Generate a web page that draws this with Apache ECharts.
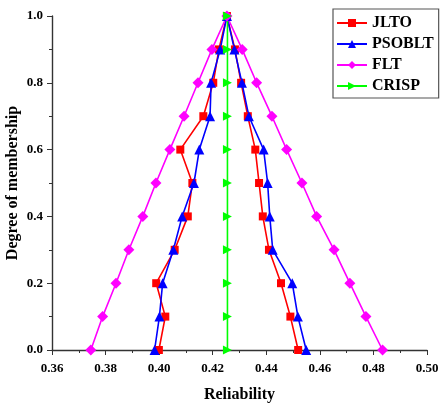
<!DOCTYPE html>
<html>
<head>
<meta charset="utf-8">
<script src="https://cdn.jsdelivr.net/npm/echarts@6/dist/echarts.min.js"></script>
<style>
  html, body { margin: 0; padding: 0; background: #fff; }
  #chart { width: 440px; height: 410px; }
</style>
</head>
<body>
<div id="chart"></div>
<script>
// membership levels (y), and the x values of each branch at those levels
const levels = [0, 0.1, 0.2, 0.3, 0.4, 0.5, 0.6, 0.7, 0.8, 0.9, 1.0];

const jltoLeft = [0.3999, 0.4023, 0.3989, 0.4058, 0.4107, 0.4124, 0.4079, 0.4165, 0.4202, 0.4223, 0.4253];
const jltoRight = [0.4519, 0.4490, 0.4455, 0.4410, 0.4387, 0.4373, 0.4359, 0.4331, 0.4306, 0.4283, 0.4253];

const psobltLeft = [0.3983, 0.4001, 0.4013, 0.4053, 0.4086, 0.4130, 0.4150, 0.4190, 0.4194, 0.4228, 0.4253];
const psobltRight = [0.4549, 0.4518, 0.4497, 0.4424, 0.4413, 0.4405, 0.4390, 0.4335, 0.4309, 0.4281, 0.4253];

const fltLeft = [0.3745, 0.3789, 0.3839, 0.3887, 0.3939, 0.3988, 0.4040, 0.4093, 0.4145, 0.4197, 0.4253];
const fltRight = [0.4834, 0.4772, 0.4712, 0.4653, 0.4588, 0.4533, 0.4476, 0.4421, 0.4364, 0.4310, 0.4253];

const crispValues = [0.4255, 0.4255, 0.4255, 0.4255, 0.4255, 0.4255, 0.4255, 0.4255, 0.4255, 0.4255, 0.4255];

const xTicks = { min: 0.36, max: 0.50, interval: 0.02 };
const yTicks = { min: 0, max: 1, interval: 0.2 };

const font = '"Liberation Serif", "Times New Roman", serif';

// left branch going up, then right branch going back down
const triangle = (left, right) => {
    const up = left.map((x, i) => [x, levels[i]]);
    const down = [];
    for (let i = right.length - 2; i >= 0; i--) {
        down.push([right[i], levels[i]]);
    }
    return up.concat(down);
};

const makeSeries = (name, data, color, symbol, size, rotate) => ({
    name,
    type: 'line',
    data,
    symbol,
    symbolSize: size,
    symbolRotate: rotate || 0,
    lineStyle: { color, width: 1.6 },
    itemStyle: { color },
    emphasis: { disabled: true },
    animation: false
});

const axisLine = { show: true, lineStyle: { color: '#333', width: 1.4 } };

const option = {
    backgroundColor: '#fff',
    grid: { left: 52, right: 13, top: 16, bottom: 60, outerBoundsMode: 'none', containLabel: false },
    legend: {
        orient: 'vertical',
        left: 333,
        top: 9,
        padding: [6, 5, 4, 3],
        itemGap: 5,
        itemWidth: 30,
        itemHeight: 10,
        borderColor: '#555',
        borderWidth: 1.2,
        borderRadius: 0,
        textStyle: { fontFamily: font, fontWeight: 'bold', fontSize: 16, color: '#000', padding: [0, 0, 0, 0] },
        data: ['JLTO', 'PSOBLT', 'FLT', 'CRISP']
    },
    xAxis: {
        type: 'value',
        min: xTicks.min,
        max: xTicks.max,
        interval: xTicks.interval,
        name: 'Reliability',
        nameLocation: 'middle',
        nameGap: 37,
        nameMoveOverlap: false,
        nameTextStyle: { fontFamily: font, fontWeight: 'bold', fontSize: 16, color: '#000' },
        axisLine,
        axisTick: { show: true, inside: false, length: 5, lineStyle: { color: '#333' } },
        minorTick: { show: true, splitNumber: 2, length: 3, lineStyle: { color: '#333' } },
        splitLine: { show: false },
        axisLabel: {
            fontFamily: font, fontWeight: 'bold', fontSize: 13, color: '#000', margin: 12,
            formatter: v => v.toFixed(2)
        }
    },
    yAxis: {
        type: 'value',
        min: yTicks.min,
        max: yTicks.max,
        interval: yTicks.interval,
        name: 'Degree of membership',
        nameLocation: 'middle',
        nameGap: 31,
        nameMoveOverlap: false,
        nameTextStyle: { fontFamily: font, fontWeight: 'bold', fontSize: 16, color: '#000' },
        axisLine,
        axisTick: { show: true, inside: false, length: 5, lineStyle: { color: '#333' } },
        minorTick: { show: true, splitNumber: 2, length: 3, lineStyle: { color: '#333' } },
        splitLine: { show: false },
        axisLabel: {
            fontFamily: font, fontWeight: 'bold', fontSize: 13, color: '#000', margin: 9,
            formatter: v => v.toFixed(1)
        }
    },
    series: [
        makeSeries('JLTO', triangle(jltoLeft, jltoRight), '#ff0000', 'rect', 8),
        makeSeries('PSOBLT', triangle(psobltLeft, psobltRight), '#0000ff', 'triangle', 10),
        makeSeries('FLT', triangle(fltLeft, fltRight), '#ff00ff', 'diamond', 11),
        makeSeries('CRISP', crispValues.map((x, i) => [x, levels[i]]), '#00ff00', 'triangle', 9, -90)
    ]
};

const myChart = echarts.init(document.getElementById('chart'), null, { renderer: 'canvas' });
myChart.setOption(option);
</script>
</body>
</html>
